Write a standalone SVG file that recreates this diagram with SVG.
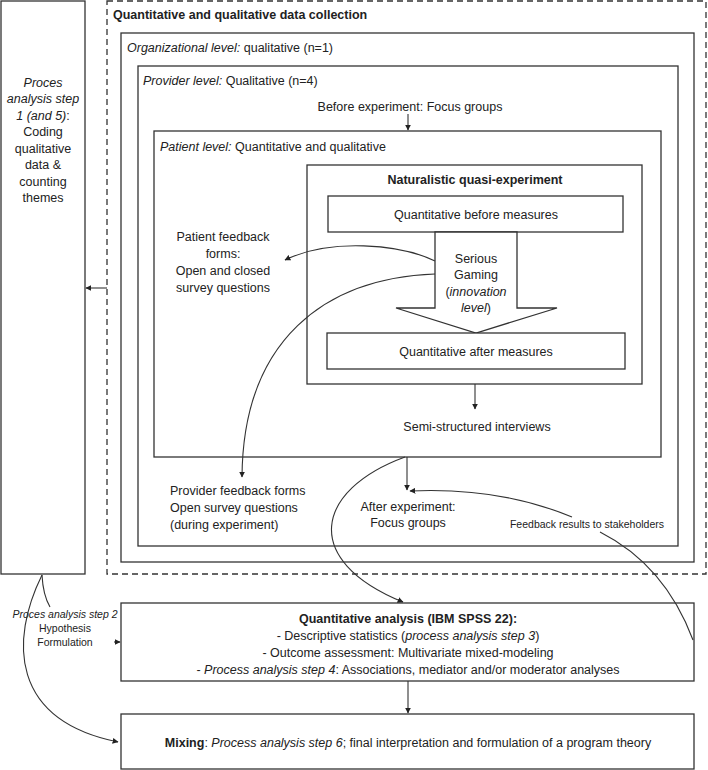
<svg xmlns="http://www.w3.org/2000/svg" width="708" height="770" viewBox="0 0 708 770">
<defs>
<marker id="ah" viewBox="0 0 10 10" refX="9" refY="5" markerWidth="6" markerHeight="6" markerUnits="userSpaceOnUse" orient="auto">
<path d="M0,0 L10,5 L0,10 z" fill="#222"/>
</marker>
<style>
.box{fill:#fff;stroke:#333;stroke-width:1.3}
.dash{fill:none;stroke:#333;stroke-width:1.3;stroke-dasharray:6,4}
.t{font-family:"Liberation Sans",Arial,sans-serif;font-size:12.5px;fill:#222}
.s{font-family:"Liberation Sans",Arial,sans-serif;font-size:10.5px;fill:#222}
.b{font-weight:bold}
.i{font-style:italic}
.c{text-anchor:middle}
.ln{fill:none;stroke:#333;stroke-width:1.1}
</style>
</defs>
<rect width="708" height="770" fill="#fff"/>

<g id="process-left">
<rect class="box" x="1" y="1" width="84" height="573"/>
<text class="t c" x="43" y="87"><tspan class="i">Proces</tspan></text>
<text class="t c" x="43" y="103"><tspan class="i">analysis step</tspan></text>
<text class="t c" x="43" y="120"><tspan class="i">1 (and 5)</tspan>:</text>
<text class="t c" x="43" y="136">Coding</text>
<text class="t c" x="43" y="153">qualitative</text>
<text class="t c" x="43" y="169">data &amp;</text>
<text class="t c" x="43" y="186">counting</text>
<text class="t c" x="43" y="202">themes</text>
</g>

<g id="data-collection">
<rect class="dash" x="107" y="1" width="599" height="573"/>
<text class="t b" x="113" y="19">Quantitative and qualitative data collection</text>
</g>

<g id="organizational">
<rect class="box" x="121" y="33" width="573" height="529"/>
<text class="t" x="127" y="52"><tspan class="i">Organizational level:</tspan> qualitative (n=1)</text>
</g>

<g id="provider">
<rect class="box" x="138" y="66" width="540" height="480"/>
<text class="t" x="143" y="85"><tspan class="i">Provider level:</tspan> Qualitative (n=4)</text>
<text class="t c" x="410" y="111">Before experiment: Focus groups</text>
</g>

<g id="patient">
<rect class="box" x="154" y="131" width="507" height="326"/>
<text class="t" x="160" y="151"><tspan class="i">Patient level:</tspan> Quantitative and qualitative</text>
</g>

<g id="quasi-experiment">
<rect class="box" x="307" y="165" width="335" height="219"/>
<text class="t b c" x="475" y="184">Naturalistic quasi-experiment</text>
</g>

<g id="before-measures">
<rect class="box" x="328" y="196" width="295" height="36"/>
<text class="t c" x="476" y="219">Quantitative before measures</text>
</g>

<g id="serious-gaming">
<path class="box" d="M435,232 L517,232 L517,308 L557,308 L476,333 L396,308 L435,308 Z"/>
<text class="t c" x="476" y="263">Serious</text>
<text class="t c" x="476" y="279">Gaming</text>
<text class="t c" x="476" y="296">(<tspan class="i">innovation</tspan></text>
<text class="t c" x="476" y="312"><tspan class="i">level</tspan>)</text>
</g>

<g id="after-measures">
<rect class="box" x="327" y="333" width="298" height="36"/>
<text class="t c" x="476" y="356">Quantitative after measures</text>
</g>

<g id="patient-feedback">
<text class="t c" x="223" y="241">Patient feedback</text>
<text class="t c" x="223" y="258">forms:</text>
<text class="t c" x="223" y="275">Open and closed</text>
<text class="t c" x="223" y="292">survey questions</text>
</g>

<g id="semi-structured">
<text class="t c" x="477" y="431">Semi-structured interviews</text>
</g>

<g id="provider-feedback">
<text class="t" x="170" y="495">Provider feedback forms</text>
<text class="t" x="170" y="512">Open survey questions</text>
<text class="t" x="170" y="529">(during experiment)</text>
</g>

<g id="after-experiment">
<text class="t c" x="408" y="511">After experiment:</text>
<text class="t c" x="408" y="527">Focus groups</text>
</g>

<g id="feedback-label">
<text class="s c" x="587" y="528">Feedback results to stakeholders</text>
</g>

<g id="step2-label">
<text class="s c i" x="65" y="618">Proces analysis step 2</text>
<text class="s c" x="65" y="632">Hypothesis</text>
<text class="s c" x="65" y="646">Formulation</text>
</g>

<g id="quant-analysis">
<rect class="box" x="121" y="603" width="573" height="78"/>
<text class="t c b" x="408" y="623">Quantitative analysis (IBM SPSS 22):</text>
<text class="t c" x="408" y="640">- Descriptive statistics (<tspan class="i">process analysis step 3</tspan>)</text>
<text class="t c" x="408" y="657">- Outcome assessment: Multivariate mixed-modeling</text>
<text class="t c" x="408" y="674">- <tspan class="i">Process analysis step 4</tspan>: Associations, mediator and/or moderator analyses</text>
</g>

<g id="mixing">
<rect class="box" x="121" y="714" width="573" height="55"/>
<text class="t c" x="408" y="747"><tspan class="b">Mixing</tspan>: <tspan class="i">Process analysis step 6</tspan>; final interpretation and formulation of a program theory</text>
</g>

<g id="connectors">
<path class="ln" d="M107,288 L86,288" marker-end="url(#ah)"/>
<path class="ln" d="M408,114 L408,130" marker-end="url(#ah)"/>
<path class="ln" d="M435,261 C400,244 330,238 285,260" marker-end="url(#ah)"/>
<path class="ln" d="M435,274 C325,278 243,340 242,477" marker-end="url(#ah)"/>
<path class="ln" d="M475,384 L475,409" marker-end="url(#ah)"/>
<path class="ln" d="M407,457 L407,490" marker-end="url(#ah)"/>
<path class="ln" d="M405,457 C315,490 300,560 403,602" marker-end="url(#ah)"/>
<path class="ln" d="M693,640 Q665,565 600,532"/>
<path class="ln" d="M572,517 Q500,487 410,491" marker-end="url(#ah)"/>
<path class="ln" d="M42,575 Q43,595 50,607"/>
<path class="ln" d="M42,575 C10,640 10,720 118,742" marker-end="url(#ah)"/>
<path class="ln" d="M114,642 L120,642" marker-end="url(#ah)"/>
<path class="ln" d="M408,681 L408,713" marker-end="url(#ah)"/>
</g>
</svg>
